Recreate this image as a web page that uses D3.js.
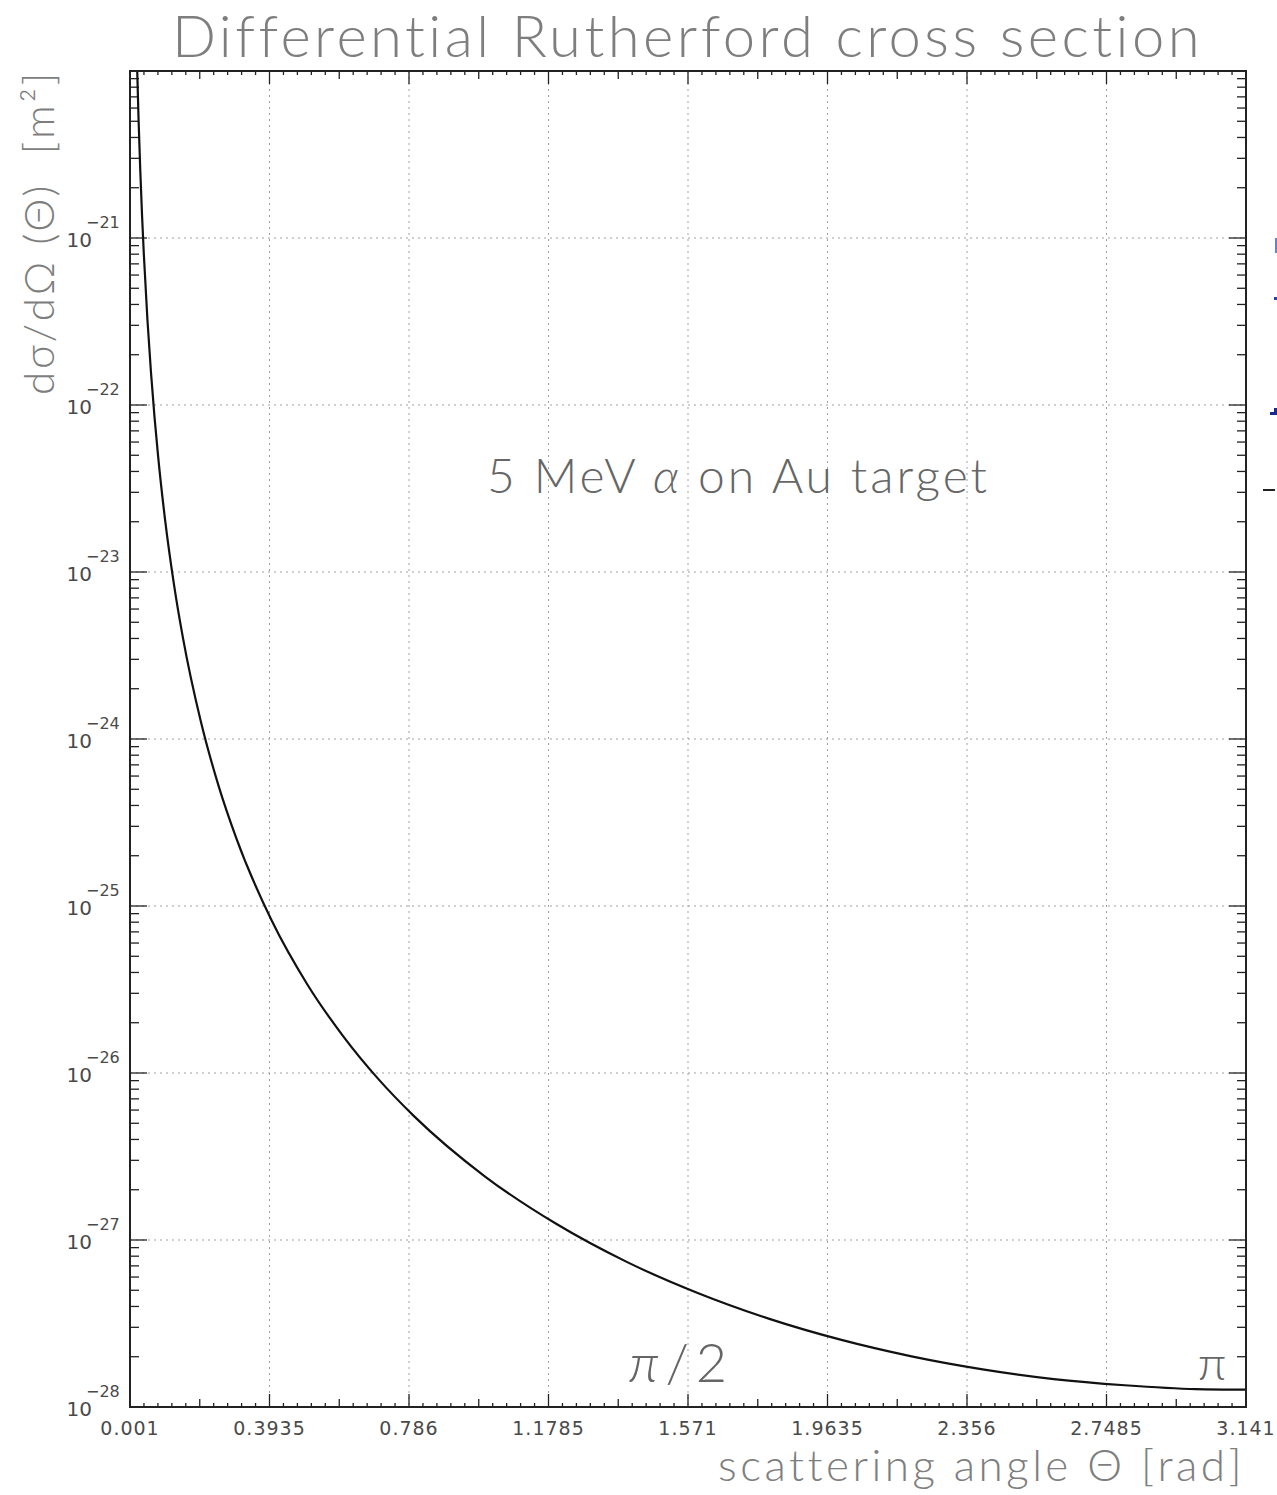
<!DOCTYPE html>
<html>
<head>
<meta charset="utf-8">
<script src="https://cdn.jsdelivr.net/npm/d3@7"></script>
<style>
body { margin: 0; background: #fff; }
svg { display: block; }
</style>
</head>
<body>
<svg id="chart"></svg>
<script>
// scattering angle [rad] and cross section [m^2]
var theta = [0.018, 0.02, 0.025, 0.03, 0.035, 0.04, 0.05, 0.06, 0.07, 0.08, 0.1, 0.125, 0.15, 0.2, 0.25, 0.3,
  0.4, 0.5, 0.6, 0.7, 0.8, 1.0, 1.2, 1.4, 1.6, 1.8, 2.0, 2.2, 2.4, 2.6, 2.8, 3.0, 3.141]
var sigma = [1.94e-20, 1.27e-20, 5.2e-21, 2.51e-21, 1.35e-21, 7.94e-22, 3.25e-22, 1.57e-22, 8.46e-23, 4.96e-23, 2.03e-23, 8.35e-24, 4.03e-24, 1.28e-24, 5.26e-25, 2.55e-25,
  8.15e-26, 3.39e-26, 1.67e-26, 9.19e-27, 5.52e-27, 2.40e-27, 1.25e-27, 7.37e-28, 4.80e-28, 3.37e-28, 2.53e-28, 2.01e-28, 1.68e-28, 1.47e-28, 1.35e-28, 1.28e-28, 1.27e-28]

var xTickValues = [0.001, 0.3935, 0.786, 1.1785, 1.571, 1.9635, 2.356, 2.7485, 3.141]
var xTickLabels = ["0.001", "0.3935", "0.786", "1.1785", "1.571", "1.9635", "2.356", "2.7485", "3.141"]
var yDecades = [-28, -27, -26, -25, -24, -23, -22, -21]

var screen = {width: 1277, height: 1495}
var frame = {left: 130, right: 1246, top: 71, bottom: 1407}

var svg = d3.select("#chart")
  .attr("width", screen.width)
  .attr("height", screen.height)

var xScale = d3.scaleLinear()
  .domain([0.001, 3.141])
  .range([frame.left, frame.right])

var yScale = d3.scaleLog()
  .domain([1e-28, 1e-20])
  .range([frame.bottom, frame.top])

var grey = "#7e7e7e"
var geo = "Lato, 'Open Sans', sans-serif"
var tickFont = "'DejaVu Sans', sans-serif"

// spread a text to a measured width with letter spacing
var fitWidth = function(sel, w) {
  sel.attr("letter-spacing", 0)
  var len = sel.node().getComputedTextLength()
  var n = sel.text().length
  sel.attr("letter-spacing", (w - len) / n)
}

// grid
var grid = svg.append("g")
  .attr("stroke", "#a0a0a0")
  .attr("stroke-width", 1)
  .attr("stroke-dasharray", "2,4")

grid.selectAll(".vg")
  .data(xTickValues.slice(1, -1))
  .enter()
  .append("line")
  .attr("x1", function(d) { return xScale(d) })
  .attr("x2", function(d) { return xScale(d) })
  .attr("y1", frame.top)
  .attr("y2", frame.bottom)

grid.selectAll(".hg")
  .data(yDecades.slice(1))
  .enter()
  .append("line")
  .attr("x1", frame.left)
  .attr("x2", frame.right)
  .attr("y1", function(d) { return yScale(Math.pow(10, d)) })
  .attr("y2", function(d) { return yScale(Math.pow(10, d)) })

// x ticks, inside, top and bottom
var xAll = d3.range(0, 81).map(function(i) { return 0.001 + i * 0.03925 })
var xTickLen = function(i) { return i % 10 == 0 ? 13 : (i % 5 == 0 ? 8 : 4) }

var axes = svg.append("g").attr("stroke", "#222").attr("stroke-width", 1.3)

axes.selectAll(".xb")
  .data(xAll)
  .enter()
  .append("line")
  .attr("x1", function(d) { return xScale(d) })
  .attr("x2", function(d) { return xScale(d) })
  .attr("y1", frame.bottom)
  .attr("y2", function(d, i) { return frame.bottom - xTickLen(i) })

axes.selectAll(".xt")
  .data(xAll)
  .enter()
  .append("line")
  .attr("x1", function(d) { return xScale(d) })
  .attr("x2", function(d) { return xScale(d) })
  .attr("y1", frame.top)
  .attr("y2", function(d, i) { return frame.top + xTickLen(i) })

// y ticks, log
var yAll = []
yDecades.forEach(function(e) {
  for (var m = 1; m <= 9; m++) yAll.push({v: m * Math.pow(10, e), major: m == 1})
})
yAll.push({v: 1e-20, major: true})

axes.selectAll(".yl")
  .data(yAll)
  .enter()
  .append("line")
  .attr("x1", frame.left)
  .attr("x2", function(d) { return frame.left + (d.major ? 17 : 9) })
  .attr("y1", function(d) { return yScale(d.v) })
  .attr("y2", function(d) { return yScale(d.v) })

axes.selectAll(".yr")
  .data(yAll)
  .enter()
  .append("line")
  .attr("x1", frame.right)
  .attr("x2", function(d) { return frame.right - (d.major ? 17 : 9) })
  .attr("y1", function(d) { return yScale(d.v) })
  .attr("y2", function(d) { return yScale(d.v) })

// curve
svg.append("clipPath").attr("id", "clip")
  .append("rect")
  .attr("x", frame.left).attr("y", frame.top)
  .attr("width", frame.right - frame.left).attr("height", frame.bottom - frame.top)

var line = d3.line()
  .x(function(d, i) { return xScale(theta[i]) })
  .y(function(d) { return yScale(d) })
  .curve(d3.curveMonotoneX)

svg.append("path")
  .datum(sigma)
  .attr("clip-path", "url(#clip)")
  .attr("d", line)
  .attr("fill", "none")
  .attr("stroke", "#111")
  .attr("stroke-width", 2.2)

// frame
svg.append("rect")
  .attr("x", frame.left).attr("y", frame.top)
  .attr("width", frame.right - frame.left).attr("height", frame.bottom - frame.top)
  .attr("fill", "none")
  .attr("stroke", "#222")
  .attr("stroke-width", 2)

// x tick labels
svg.selectAll(".xlab")
  .data(xTickValues)
  .enter()
  .append("text")
  .attr("x", function(d) { return xScale(d) })
  .attr("y", 1435)
  .attr("text-anchor", "middle")
  .attr("font-family", tickFont)
  .attr("font-size", 19)
  .attr("letter-spacing", 1)
  .attr("fill", "#4a4a4a")
  .text(function(d, i) { return xTickLabels[i] })

// y tick labels: 10 with exponent
var ylab = svg.selectAll(".ylab")
  .data(yDecades)
  .enter()
  .append("g")
  .attr("transform", function(d) { return "translate(0," + yScale(Math.pow(10, d)) + ")" })

ylab.append("text")
  .attr("x", 92)
  .attr("y", 9)
  .attr("text-anchor", "end")
  .attr("font-family", tickFont)
  .attr("font-size", 20)
  .attr("fill", "#4a4a4a")
  .text("10")

ylab.append("text")
  .attr("x", 86)
  .attr("y", -10)
  .attr("font-family", tickFont)
  .attr("font-size", 16)
  .attr("fill", "#4a4a4a")
  .text(function(d) { return "\u2212" + Math.abs(d) })

// title
var title = svg.append("text")
  .attr("x", 172)
  .attr("y", 57)
  .attr("font-family", geo)
  .attr("font-weight", 300)
  .attr("font-size", 58)
  .attr("fill", grey)
  .text("Differential Rutherford cross section")
fitWidth(title, 1031)

// axis titles
var xTitle = svg.append("text")
  .attr("x", 718)
  .attr("y", 1481)
  .attr("font-family", geo)
  .attr("font-weight", 300)
  .attr("font-size", 44)
  .attr("fill", grey)
  .text("scattering angle \u0398 [rad]")
fitWidth(xTitle, 526)

var yTitle = svg.append("text")
  .attr("transform", "translate(54,70) rotate(-90)")
  .attr("text-anchor", "end")
  .attr("font-family", geo)
  .attr("font-weight", 300)
  .attr("font-size", 42)
  .attr("fill", grey)
  .text("d\u03c3/d\u03a9 (\u0398)\u00a0\u00a0[m\u00b2]")
fitWidth(yTitle, 325)

// annotations
var note = svg.append("text")
  .attr("x", 487)
  .attr("y", 493)
  .attr("font-family", geo)
  .attr("font-weight", 300)
  .attr("font-size", 48)
  .attr("fill", "#666")
  .html("5 MeV <tspan font-style='italic'>\u03b1</tspan> on Au target")
fitWidth(note, 503)

svg.append("text")
  .attr("x", 678)
  .attr("y", 1382)
  .attr("text-anchor", "middle")
  .attr("font-family", geo)
  .attr("font-weight", 300)
  .attr("font-size", 54)
  .attr("fill", "#666")
  .html("<tspan font-style='italic'>\u03c0</tspan>\u2009/\u20092")

svg.append("text")
  .attr("x", 1212)
  .attr("y", 1380)
  .attr("text-anchor", "middle")
  .attr("font-family", geo)
  .attr("font-weight", 300)
  .attr("font-size", 48)
  .attr("fill", "#666")
  .text("\u03c0")

// fragments of a neighbouring figure cut off at the right edge
var frag = svg.append("g")
frag.append("rect").attr("x", 1275).attr("y", 238).attr("width", 2).attr("height", 15).attr("fill", "#6a7fd0")
frag.append("rect").attr("x", 1274).attr("y", 297).attr("width", 3).attr("height", 3).attr("fill", "#2a3fb0")
frag.append("rect").attr("x", 1270).attr("y", 412).attr("width", 7).attr("height", 3).attr("fill", "#1a2a90")
frag.append("rect").attr("x", 1274).attr("y", 408).attr("width", 3).attr("height", 6).attr("fill", "#1a2a90")
frag.append("rect").attr("x", 1263).attr("y", 489).attr("width", 12).attr("height", 2).attr("fill", "#222")
</script>
</body>
</html>
